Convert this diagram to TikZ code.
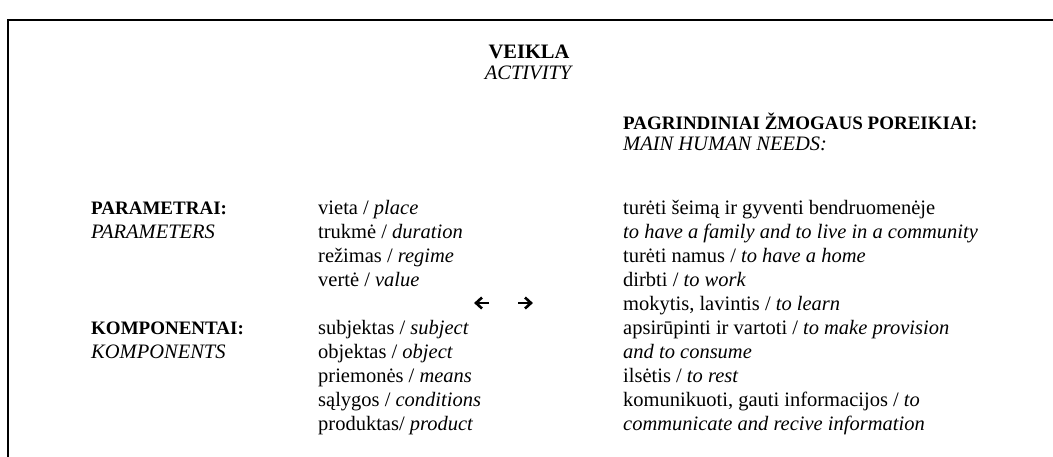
\documentclass[tikz,border=0pt]{standalone}
\usepackage{fontspec}
\setmainfont{Liberation Serif}
\begin{document}
\begin{tikzpicture}[x=1pt,y=1pt,
  txt/.style={anchor=base west,inner sep=0pt,font=\fontsize{20.5}{24}\selectfont},
  bld/.style={anchor=base west,inner sep=0pt,font=\fontsize{19}{24}\selectfont\bfseries},
  ctr/.style={anchor=base,inner sep=0pt,font=\fontsize{20.5}{24}\selectfont},
  arrowglyph/.style={line width=2.6pt,miter limit=10},
  frame/.style={line width=2pt}]
\useasboundingbox (0,0) rectangle (1053,-456);
\draw[frame] (8,-470) -- (8,-20) -- (1070,-20);
\def\rA{-214}\def\p{24}
% header
\node[ctr] (veikla) at (529,-58) {\textbf{VEIKLA}};
\node[ctr] (activity) at (529,-79) {\textit{ACTIVITY}};
\node[bld] (needsLT) at (623,-129) {PAGRINDINIAI ŽMOGAUS POREIKIAI:};
\node[txt] (needsEN) at (623,-150) {\textit{MAIN HUMAN NEEDS:}};
% left column
\node[bld] (parLT) at (91,{\rA}) {PARAMETRAI:};
\node[txt] (parEN) at (91,{\rA-\p}) {\textit{PARAMETERS}};
\node[bld] (komLT) at (91,{\rA-5*\p}) {KOMPONENTAI:};
\node[txt] (komEN) at (91,{\rA-6*\p}) {\textit{KOMPONENTS}};
% middle column
\node[txt] (m0) at (318,{\rA}) {vieta / \textit{place}};
\node[txt] (m1) at (318,{\rA-\p}) {trukmė / \textit{duration}};
\node[txt] (m2) at (318,{\rA-2*\p}) {režimas / \textit{regime}};
\node[txt] (m3) at (318,{\rA-3*\p}) {vertė / \textit{value}};
\node[txt] (m5) at (318,{\rA-5*\p}) {subjektas / \textit{subject}};
\node[txt] (m6) at (318,{\rA-6*\p}) {objektas / \textit{object}};
\node[txt] (m7) at (318,{\rA-7*\p}) {priemonės / \textit{means}};
\node[txt] (m8) at (318,{\rA-8*\p}) {sąlygos / \textit{conditions}};
\node[txt] (m9) at (318,{\rA-9*\p}) {produktas/ \textit{product}};
% arrows (glyph-like bold arrows)
\coordinate (ay) at (0,{\rA-4*\p+7});
\draw[arrowglyph] (489,0 |- ay) -- (476,0 |- ay);
\draw[arrowglyph] ([shift={(6,5.5)}]476,0 |- ay) -- (476,0 |- ay) -- ([shift={(6,-5.5)}]476,0 |- ay);
\draw[arrowglyph] (518,0 |- ay) -- (531,0 |- ay);
\draw[arrowglyph] ([shift={(-6,5.5)}]531,0 |- ay) -- (531,0 |- ay) -- ([shift={(-6,-5.5)}]531,0 |- ay);
% right column
\node[txt] (r0) at (623,{\rA}) {turėti šeimą ir gyventi bendruomenėje};
\node[txt] (r1) at (623,{\rA-\p}) {\textit{to have a family and to live in a community}};
\node[txt] (r2) at (623,{\rA-2*\p}) {turėti namus / \textit{to have a home}};
\node[txt] (r3) at (623,{\rA-3*\p}) {dirbti / \textit{to work}};
\node[txt] (r4) at (623,{\rA-4*\p}) {mokytis, lavintis / \textit{to learn}};
\node[txt] (r5) at (623,{\rA-5*\p}) {apsirūpinti ir vartoti / \textit{to make provision}};
\node[txt] (r6) at (623,{\rA-6*\p}) {\textit{and to consume}};
\node[txt] (r7) at (623,{\rA-7*\p}) {ilsėtis / \textit{to rest}};
\node[txt] (r8) at (623,{\rA-8*\p}) {komunikuoti, gauti informacijos / \textit{to}};
\node[txt] (r9) at (623,{\rA-9*\p}) {\textit{communicate and recive information}};
\end{tikzpicture}
\end{document}
